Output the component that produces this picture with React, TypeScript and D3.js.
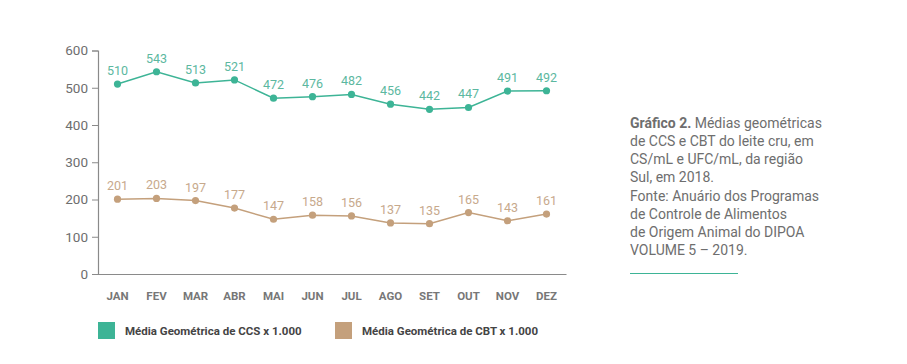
import React, {useEffect, useRef} from 'react';
import * as d3 from 'd3';

// months on the x axis
const months: string[] = ['JAN', 'FEV', 'MAR', 'ABR', 'MAI', 'JUN', 'JUL', 'AGO', 'SET', 'OUT', 'NOV', 'DEZ'];
// CCS x 1.000
const ccsValues: number[] = [510, 543, 513, 521, 472, 476, 482, 456, 442, 447, 491, 492];
// CBT x 1.000
const cbtValues: number[] = [201, 203, 197, 177, 147, 158, 156, 137, 135, 165, 143, 161];
const yTicks: number[] = [0, 100, 200, 300, 400, 500, 600];
const legendLabels: string[] = ['Média Geométrica de CCS x 1.000', 'Média Geométrica de CBT x 1.000'];
const captionLines: string[] = [
  'de CCS e CBT do leite cru, em',
  'CS/mL e UFC/mL, da região',
  'Sul, em 2018.',
];
const sourceLines: string[] = [
  'Fonte: Anuário dos Programas',
  'de Controle de Alimentos',
  'de Origem Animal do DIPOA',
  'VOLUME 5 – 2019.',
];

const App = () => {
  const ref = useRef<SVGSVGElement>(null);

  useEffect(() => {
    drawChart();
    return () => {
      d3.select(ref.current).selectAll('*').remove();
    };
  }, []);

  const drawChart = () => {
    const svg = d3.select(ref.current);
    const teal = '#3db496';
    const tan = '#c4a07c';
    const grey = '#6e6e6e';
    const font = 'Roboto, sans-serif';

    const x = d3.scaleBand<string>().domain(months).range([98, 566]).padding(0);
    const y = d3.scaleLinear().domain([0, 600]).range([274, 50.5]);
    const cx = (i: number) => (x(months[i]) as number) + x.bandwidth() / 2;

    // y axis
    const yAxis = svg.append('g')
      .attr('transform', 'translate(98,0)')
      .call(d3.axisLeft(y).tickValues(yTicks).tickSize(6).tickPadding(4));
    yAxis.select('.domain').attr('stroke', '#8a8a8a').attr('stroke-width', 1.2);
    yAxis.selectAll('line').attr('stroke', '#8a8a8a');
    yAxis.selectAll('text')
      .attr('fill', grey)
      .attr('font-family', font)
      .attr('font-size', 13.5);

    // x axis line (no ticks)
    const xAxis = svg.append('g')
      .attr('transform', 'translate(0,274)')
      .call(d3.axisBottom(x).tickSize(0).tickPadding(18));
    xAxis.select('.domain').attr('stroke', '#8a8a8a').attr('stroke-width', 1.2);
    xAxis.selectAll('text')
      .attr('fill', '#777')
      .attr('font-family', font)
      .attr('font-weight', 'bold')
      .attr('font-size', 11.5);

    const series = [
      {values: ccsValues, color: teal, label: '#5cb8a0'},
      {values: cbtValues, color: tan, label: '#c7a98c'},
    ];

    series.forEach(s => {
      const line = d3.line<number>()
        .x((_, i) => cx(i))
        .y(d => y(d));
      svg.append('path')
        .datum(s.values)
        .attr('d', line)
        .attr('fill', 'none')
        .attr('stroke', s.color)
        .attr('stroke-width', 1.5);

      svg.append('g').selectAll('circle')
        .data(s.values)
        .enter().append('circle')
        .attr('cx', (_, i) => cx(i))
        .attr('cy', d => y(d))
        .attr('r', 3.6)
        .attr('fill', s.color);

      svg.append('g').selectAll('text')
        .data(s.values)
        .enter().append('text')
        .attr('x', (_, i) => cx(i))
        .attr('y', d => y(d) - 9)
        .attr('text-anchor', 'middle')
        .attr('font-family', font)
        .attr('font-size', 12.5)
        .attr('fill', s.label)
        .text(d => d);
    });

    // legend
    const legend = svg.append('g');
    [teal, tan].forEach((c, i) => {
      const lx = 98 + i * 237;
      legend.append('rect')
        .attr('x', lx).attr('y', 322)
        .attr('width', 17).attr('height', 17)
        .attr('fill', c);
      legend.append('text')
        .attr('x', lx + 27).attr('y', 335)
        .attr('font-family', font)
        .attr('font-size', 11.5)
        .attr('font-weight', 'bold')
        .attr('fill', '#444')
        .text(legendLabels[i]);
    });

    // caption on the right
    const cap = svg.append('g').attr('font-family', font).attr('font-size', 14).attr('fill', grey);
    const first = cap.append('text').attr('x', 630).attr('y', 128);
    first.append('tspan').attr('font-weight', 'bold').text('Gráfico 2.');
    first.append('tspan').text(' Médias geométricas');
    captionLines.forEach((t, i) => {
      cap.append('text').attr('x', 630).attr('y', 146 + i * 18).text(t);
    });
    sourceLines.forEach((t, i) => {
      cap.append('text').attr('x', 630).attr('y', 201 + i * 18).text(t);
    });
    svg.append('line')
      .attr('x1', 630).attr('x2', 738)
      .attr('y1', 273.5).attr('y2', 273.5)
      .attr('stroke', teal).attr('stroke-width', 1.2);
  };

  return (
    <div style={{position: 'absolute', left: 0, top: 0}}>
      <svg ref={ref} width={907} height={364} style={{display: 'block', background: '#fff'}} />
    </div>
  );
};

export default App;
